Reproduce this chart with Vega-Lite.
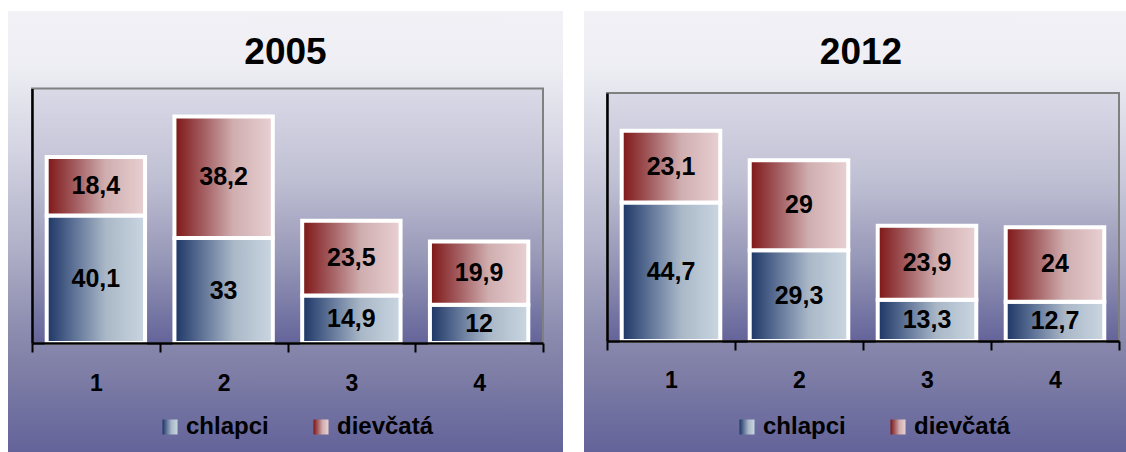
{
  "$schema": "https://vega.github.io/schema/vega-lite/v6.json",
  "background": "white",
  "padding": {"left": 8, "top": 11, "right": 0, "bottom": 0},
  "spacing": 21,
  "datasets": {
    "bars": [
      {"year": "2005", "cat": "1", "gender": "chlapci", "value": 40.1},
      {"year": "2005", "cat": "1", "gender": "dievčatá", "value": 18.4},
      {"year": "2005", "cat": "2", "gender": "chlapci", "value": 33},
      {"year": "2005", "cat": "2", "gender": "dievčatá", "value": 38.2},
      {"year": "2005", "cat": "3", "gender": "chlapci", "value": 14.9},
      {"year": "2005", "cat": "3", "gender": "dievčatá", "value": 23.5},
      {"year": "2005", "cat": "4", "gender": "chlapci", "value": 12},
      {"year": "2005", "cat": "4", "gender": "dievčatá", "value": 19.9},
      {"year": "2012", "cat": "1", "gender": "chlapci", "value": 44.7},
      {"year": "2012", "cat": "1", "gender": "dievčatá", "value": 23.1},
      {"year": "2012", "cat": "2", "gender": "chlapci", "value": 29.3},
      {"year": "2012", "cat": "2", "gender": "dievčatá", "value": 29},
      {"year": "2012", "cat": "3", "gender": "chlapci", "value": 13.3},
      {"year": "2012", "cat": "3", "gender": "dievčatá", "value": 23.9},
      {"year": "2012", "cat": "4", "gender": "chlapci", "value": 12.7},
      {"year": "2012", "cat": "4", "gender": "dievčatá", "value": 24}
    ]
  },
  "config": {
    "font": "Liberation Sans",
    "locale": {"number": {"decimal": ",", "thousands": " ", "grouping": [3], "currency": ["", " €"]}},
    "axisX": {"title": null, "labelAngle": 0, "labelFont": "Liberation Sans", "labelFontSize": 23, "labelFontWeight": "bold", "labelColor": "black", "labelPadding": 20, "tickSize": 9, "tickWidth": 2, "tickColor": "black", "domainColor": "black", "domainWidth": 2.5, "tickBand": "extent", "grid": false, "zindex": 1},
    "axisY": {"title": null, "labels": false, "ticks": false, "grid": false, "domainColor": "black", "domainWidth": 2.5, "zindex": 1},
    "legend": {"orient": "none", "direction": "horizontal", "title": null, "symbolType": "square", "symbolSize": 225, "symbolStrokeColor": "white", "symbolStrokeWidth": 5, "labelFont": "Liberation Sans", "labelFontSize": 24, "labelFontWeight": "bold", "labelColor": "black", "labelOffset": 4, "padding": 0, "labelLimit": 300},
    "view": {
      "stroke": null,
      "fill": {"gradient": "linear", "x1": 0, "y1": 0, "x2": 0, "y2": 1, "stops": [
        {"offset": 0, "color": "#f1f1f6"},
        {"offset": 0.12, "color": "#eeeef4"},
        {"offset": 0.3, "color": "#d6d6e4"},
        {"offset": 0.55, "color": "#aeaec7"},
        {"offset": 0.7, "color": "#9090b2"},
        {"offset": 0.82, "color": "#7e7ea6"},
        {"offset": 1, "color": "#63639a"}
      ]}
    }
  },
  "resolve": {"scale": {"x": "independent", "y": "independent", "opacity": "independent", "strokeWidth": "independent"}, "legend": {"opacity": "independent", "strokeWidth": "independent"}},
  "hconcat": [
    {
      "width": 555,
      "height": 441,
      "title": {"text": "2005", "fontSize": 37, "fontWeight": "bold", "color": "black", "offset": -79, "baseline": "middle", "anchor": "middle", "font": "Liberation Sans"},
      "layer": [
        {
          "data": {"values": [{"area": "plot"}]},
          "mark": {"type": "rect", "stroke": "#808080", "strokeWidth": 2, "fill": {"gradient": "linear", "x1": 0, "y1": 0, "x2": 0, "y2": 1, "stops": [
            {"offset": 0, "color": "#d9d9e7"},
            {"offset": 0.35, "color": "#c0c0d4"},
            {"offset": 0.7, "color": "#9393b5"},
            {"offset": 1, "color": "#64649a"}
          ]}},
          "encoding": {
            "x": {"datum": 0, "type": "quantitative", "scale": {"domain": [0, 1], "range": [24, 535]}, "axis": null},
            "x2": {"datum": 1},
            "y": {"datum": 80, "type": "quantitative", "scale": {"domain": [0, 80], "range": [332, 77.5], "nice": false}, "axis": {"offset": -24, "domainColor": "black", "domainWidth": 2.5, "zindex": 1}},
            "y2": {"datum": 0}
          }
        },
        {
          "data": {"name": "bars"},
          "transform": [
            {"filter": "datum.year == '2005'"},
            {"stack": "value", "groupby": ["cat"], "sort": [{"field": "gender", "order": "ascending"}], "as": ["v0", "v1"]},
            {"calculate": "(datum.v0 + datum.v1) / 2", "as": "mid"}
          ],
          "encoding": {
            "x": {"field": "cat", "type": "nominal", "scale": {"domain": ["1", "2", "3", "4"], "range": [24, 535], "paddingInner": 0, "paddingOuter": 0},
              "axis": {"offset": -109, "labelFont": "Liberation Sans", "labelFontSize": 23, "labelFontWeight": "bold", "labelColor": "black", "labelPadding": 20, "tickSize": 9, "tickWidth": 2, "tickColor": "black", "domainColor": "black", "domainWidth": 2.5, "tickBand": "extent", "zindex": 1}}
          },
          "layer": [
            {
              "transform": [{"filter": "datum.gender == 'chlapci'"}],
              "mark": {"type": "bar", "stroke": "white", "strokeWidth": 4, "width": {"band": 0.77},
                "fill": {"gradient": "linear", "x1": 0, "y1": 0, "x2": 1, "y2": 0, "stops": [{"offset": 0, "color": "#1c3565"}, {"offset": 0.3, "color": "#63779a"}, {"offset": 0.6, "color": "#a9b7c7"}, {"offset": 1, "color": "#cad6e1"}]}},
              "encoding": {
                "y": {"field": "v0", "type": "quantitative", "scale": {"domain": [0, 80], "range": [332, 77.5], "nice": false}, "axis": {"offset": -24, "domainColor": "black", "domainWidth": 2.5, "zindex": 1}},
                "y2": {"field": "v1"},
                "opacity": {"field": "gender", "type": "nominal", "scale": {"domain": ["chlapci"], "range": [1]}, "legend": {"legendX": 150, "legendY": 404}}
              }
            },
            {
              "transform": [{"filter": "datum.gender == 'dievčatá'"}],
              "mark": {"type": "bar", "stroke": "white", "width": {"band": 0.77},
                "fill": {"gradient": "linear", "x1": 0, "y1": 0, "x2": 1, "y2": 0, "stops": [{"offset": 0, "color": "#7e1616"}, {"offset": 0.3, "color": "#a45f62"}, {"offset": 0.6, "color": "#d0aeb0"}, {"offset": 1, "color": "#e8d0d2"}]}},
              "encoding": {
                "y": {"field": "v0", "type": "quantitative"},
                "y2": {"field": "v1"},
                "strokeWidth": {"field": "gender", "type": "nominal", "scale": {"type": "ordinal", "domain": ["dievčatá"], "range": [4]}, "legend": {"legendX": 301, "legendY": 404}}
              }
            },
            {
              "mark": {"type": "text", "fontSize": 25, "fontWeight": "bold", "color": "black", "baseline": "middle", "font": "Liberation Sans"},
              "encoding": {
                "y": {"field": "mid", "type": "quantitative"},
                "text": {"field": "value", "type": "quantitative", "format": ".1~f"}
              }
            }
          ]
        }
      ],
      "resolve": {"scale": {"x": "independent"}, "axis": {"x": "independent"}}
    },
    {
      "width": 542,
      "height": 441,
      "title": {"text": "2012", "fontSize": 37, "fontWeight": "bold", "color": "black", "offset": -79, "baseline": "middle", "anchor": "middle", "dx": 6, "font": "Liberation Sans"},
      "layer": [
        {
          "data": {"values": [{"area": "plot"}]},
          "mark": {"type": "rect", "stroke": "#808080", "strokeWidth": 2, "fill": {"gradient": "linear", "x1": 0, "y1": 0, "x2": 0, "y2": 1, "stops": [
            {"offset": 0, "color": "#d9d9e7"},
            {"offset": 0.35, "color": "#c0c0d4"},
            {"offset": 0.7, "color": "#9393b5"},
            {"offset": 1, "color": "#64649a"}
          ]}},
          "encoding": {
            "x": {"datum": 0, "type": "quantitative", "scale": {"domain": [0, 1], "range": [23, 535]}, "axis": null},
            "x2": {"datum": 1},
            "y": {"datum": 80, "type": "quantitative", "scale": {"domain": [0, 80], "range": [330, 82], "nice": false}, "axis": {"offset": -23, "domainColor": "black", "domainWidth": 2.5, "zindex": 1}},
            "y2": {"datum": 0}
          }
        },
        {
          "data": {"name": "bars"},
          "transform": [
            {"filter": "datum.year == '2012'"},
            {"stack": "value", "groupby": ["cat"], "sort": [{"field": "gender", "order": "ascending"}], "as": ["v0", "v1"]},
            {"calculate": "(datum.v0 + datum.v1) / 2", "as": "mid"}
          ],
          "encoding": {
            "x": {"field": "cat", "type": "nominal", "scale": {"domain": ["1", "2", "3", "4"], "range": [23, 535], "paddingInner": 0, "paddingOuter": 0},
              "axis": {"offset": -111, "labelFont": "Liberation Sans", "labelFontSize": 23, "labelFontWeight": "bold", "labelColor": "black", "labelPadding": 19, "tickSize": 9, "tickWidth": 2, "tickColor": "black", "domainColor": "black", "domainWidth": 2.5, "tickBand": "extent", "zindex": 1}}
          },
          "layer": [
            {
              "transform": [{"filter": "datum.gender == 'chlapci'"}],
              "mark": {"type": "bar", "stroke": "white", "strokeWidth": 4, "width": {"band": 0.77},
                "fill": {"gradient": "linear", "x1": 0, "y1": 0, "x2": 1, "y2": 0, "stops": [{"offset": 0, "color": "#1c3565"}, {"offset": 0.3, "color": "#63779a"}, {"offset": 0.6, "color": "#a9b7c7"}, {"offset": 1, "color": "#cad6e1"}]}},
              "encoding": {
                "y": {"field": "v0", "type": "quantitative", "scale": {"domain": [0, 80], "range": [330, 82], "nice": false}, "axis": {"offset": -23, "domainColor": "black", "domainWidth": 2.5, "zindex": 1}},
                "y2": {"field": "v1"},
                "opacity": {"field": "gender", "type": "nominal", "scale": {"domain": ["chlapci"], "range": [1]}, "legend": {"legendX": 151, "legendY": 404}}
              }
            },
            {
              "transform": [{"filter": "datum.gender == 'dievčatá'"}],
              "mark": {"type": "bar", "stroke": "white", "width": {"band": 0.77},
                "fill": {"gradient": "linear", "x1": 0, "y1": 0, "x2": 1, "y2": 0, "stops": [{"offset": 0, "color": "#7e1616"}, {"offset": 0.3, "color": "#a45f62"}, {"offset": 0.6, "color": "#d0aeb0"}, {"offset": 1, "color": "#e8d0d2"}]}},
              "encoding": {
                "y": {"field": "v0", "type": "quantitative"},
                "y2": {"field": "v1"},
                "strokeWidth": {"field": "gender", "type": "nominal", "scale": {"type": "ordinal", "domain": ["dievčatá"], "range": [4]}, "legend": {"legendX": 302, "legendY": 404}}
              }
            },
            {
              "mark": {"type": "text", "fontSize": 25, "fontWeight": "bold", "color": "black", "baseline": "middle", "font": "Liberation Sans"},
              "encoding": {
                "y": {"field": "mid", "type": "quantitative"},
                "text": {"field": "value", "type": "quantitative", "format": ".1~f"}
              }
            }
          ]
        }
      ],
      "resolve": {"scale": {"x": "independent"}, "axis": {"x": "independent"}}
    }
  ]
}
